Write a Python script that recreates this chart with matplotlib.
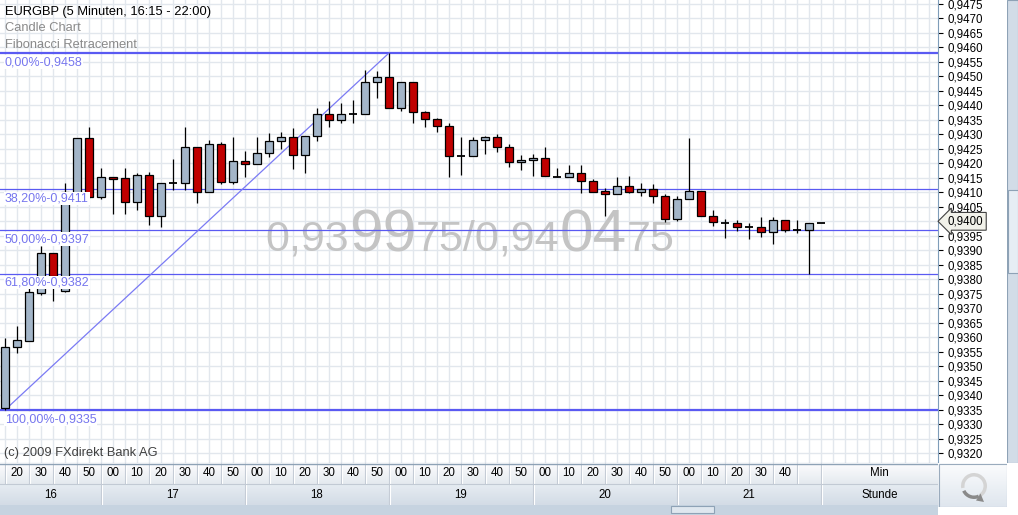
import numpy as np
import matplotlib
matplotlib.use("Agg")
import matplotlib.pyplot as plt
import matplotlib.transforms as mtransforms
from matplotlib.patches import Rectangle, Wedge, Polygon
from matplotlib.colors import to_rgb

plt.rcParams['font.family'] = ['Liberation Sans', 'DejaVu Sans']

# EURGBP 5 Minuten Kerzen ab 16:15
start_hour, start_minute, step = 16, 15, 5
opens = [0.93358, 0.93568, 0.93589, 0.93754, 0.93890, 0.93761, 0.94085, 0.94286, 0.94085, 0.94154,
         0.94148, 0.94068, 0.94160, 0.94019, 0.94131, 0.94131, 0.94255, 0.94100, 0.94265, 0.94134,
         0.94207, 0.94199, 0.94234, 0.94276, 0.94292, 0.94227, 0.94295, 0.94369, 0.94348, 0.94369,
         0.94369, 0.94479, 0.94497, 0.94389, 0.94479, 0.94376, 0.94352, 0.94328, 0.94224, 0.94224,
         0.94279, 0.94290, 0.94255, 0.94203, 0.94211, 0.94218, 0.94154, 0.94152, 0.94165, 0.94138,
         0.94104, 0.94094, 0.94122, 0.94102, 0.94110, 0.94086, 0.94007, 0.94076, 0.94103, 0.94019,
         0.93994, 0.93993, 0.93980, 0.93980, 0.93962, 0.94003, 0.93969, 0.93969, 0.93995]
highs = [0.93597, 0.93639, 0.93769, 0.93915, 0.93890, 0.94133, 0.94286, 0.94326, 0.94183, 0.94154,
         0.94183, 0.94168, 0.94171, 0.94131, 0.94214, 0.94324, 0.94255, 0.94280, 0.94272, 0.94292,
         0.94242, 0.94291, 0.94303, 0.94308, 0.94322, 0.94295, 0.94389, 0.94414, 0.94409, 0.94418,
         0.94521, 0.94518, 0.94580, 0.94479, 0.94479, 0.94380, 0.94355, 0.94338, 0.94290, 0.94292,
         0.94294, 0.94300, 0.94265, 0.94229, 0.94232, 0.94256, 0.94184, 0.94194, 0.94194, 0.94145,
         0.94114, 0.94154, 0.94156, 0.94131, 0.94129, 0.94094, 0.94086, 0.94288, 0.94103, 0.94039,
         0.94007, 0.94005, 0.93993, 0.94014, 0.94014, 0.94003, 0.94005, 0.93995, 0.93995]
lows = [0.93350, 0.93546, 0.93589, 0.93746, 0.93726, 0.93757, 0.94085, 0.94080, 0.94076, 0.94025,
        0.94025, 0.94039, 0.93987, 0.93981, 0.94108, 0.94108, 0.94064, 0.94100, 0.94128, 0.94128,
        0.94154, 0.94199, 0.94221, 0.94248, 0.94181, 0.94168, 0.94278, 0.94326, 0.94338, 0.94338,
        0.94369, 0.94424, 0.94389, 0.94381, 0.94338, 0.94324, 0.94309, 0.94154, 0.94160, 0.94224,
        0.94232, 0.94240, 0.94188, 0.94177, 0.94157, 0.94155, 0.94154, 0.94152, 0.94099, 0.94102,
        0.94019, 0.94094, 0.94097, 0.94088, 0.94062, 0.93999, 0.94001, 0.94076, 0.94019, 0.93985,
        0.93944, 0.93967, 0.93938, 0.93947, 0.93921, 0.93962, 0.93961, 0.93820, 0.93995]
closes = [0.93568, 0.93591, 0.93755, 0.93890, 0.93813, 0.94100, 0.94286, 0.94085, 0.94154, 0.94147,
          0.94068, 0.94160, 0.94019, 0.94131, 0.94131, 0.94255, 0.94100, 0.94265, 0.94134, 0.94207,
          0.94199, 0.94234, 0.94276, 0.94292, 0.94227, 0.94295, 0.94369, 0.94348, 0.94369, 0.94369,
          0.94479, 0.94497, 0.94389, 0.94479, 0.94376, 0.94352, 0.94328, 0.94224, 0.94224, 0.94279,
          0.94290, 0.94255, 0.94203, 0.94211, 0.94218, 0.94155, 0.94154, 0.94165, 0.94138, 0.94102,
          0.94094, 0.94122, 0.94102, 0.94110, 0.94086, 0.94007, 0.94076, 0.94103, 0.94019, 0.93997,
          0.93994, 0.93979, 0.93980, 0.93962, 0.94003, 0.93969, 0.93969, 0.93995, 0.93995]

fib_pcts = ['0,00%', '38,20%', '50,00%', '61,80%', '100,00%']
fib_levels = [0.9458, 0.9411, 0.9397, 0.9382, 0.9335]

minute_labels = ['20', '30', '40', '50',
                 '00', '10', '20', '30', '40', '50',
                 '00', '10', '20', '30', '40', '50',
                 '00', '10', '20', '30', '40', '50',
                 '00', '10', '20', '30', '40', '50',
                 '00', '10', '20', '30', '40', '']
hour_labels = ['16', '17', '18', '19', '20', '21']
y_ticks = np.round(np.arange(0.9320, 0.94751, 0.0005), 4)
last_price = 0.9400
quote_parts = ['0,93', '99', '75/0,94', '04', '75']
quote_big = [False, True, False, True, False]

W, H = 1018, 515
UP, DOWN = '#a3b5c8', '#c00000'
FIB, FIBTXT = '#5a5af2', '#7676ee'
GRID = '#e2e7ed'


def fmt(v):
    return f"{v:.4f}".replace('.', ',')


def gradient(a, c_top, c_bot, extent):
    t = np.linspace(0, 1, 32)[:, None, None]
    img = np.array(to_rgb(c_top)) * (1 - t) + np.array(to_rgb(c_bot)) * t
    a.imshow(img, extent=extent, aspect='auto', origin='upper', zorder=0)


fig = plt.figure(figsize=(W / 100, H / 100), dpi=100)

# Hauptchart
ax = fig.add_axes([0, 52 / H, 938 / W, 463 / H])
x_lo, x_hi = -5 / 12, 933 / 12
ax.set_xlim(x_lo, x_hi)
ax.set_ylim(0.9458 - 410 / 29020, 0.9458 + 53 / 29020)
ax.set_xticks([])
ax.set_xticks(np.arange(0, 78), minor=True)
ax.tick_params(axis='x', which='both', length=0)
ax.grid(True, which='minor', axis='x', color=GRID, lw=1, zorder=0)
ax.set_yticks(y_ticks)
ax.set_yticklabels(['' if abs(v - last_price) < 1e-6 else fmt(v) for v in y_ticks])
ax.yaxis.tick_right()
ax.tick_params(axis='y', direction='out', length=3.5, width=0.8, pad=3, labelsize=8.3)
ax.grid(True, which='major', axis='y', color=GRID, lw=1, zorder=0)
ax.set_axisbelow(True)
for s in ['top', 'left']:
    ax.spines[s].set_visible(False)
ax.spines['right'].set_color('#7f9db9')
ax.spines['bottom'].set_color('#7f9db9')

# Kurs-Wasserzeichen
renderer = fig.canvas.get_renderer()
px = 265
for part, big in zip(quote_parts, quote_big):
    t = ax.text(px, H - 251, part, transform=mtransforms.IdentityTransform(),
                fontsize=43.5 if big else 31, color='#c4c4c4', ha='left', va='baseline', zorder=1)
    px += t.get_window_extent(renderer).width

# Fibonacci
for pct, lvl in zip(fib_pcts, fib_levels):
    thick = pct in ('0,00%', '100,00%')
    ax.axhline(lvl, color=FIB, lw=1.6 if thick else 0.9, zorder=2)
    ax.annotate(f"{pct}-{fmt(lvl)}", xy=(x_lo, lvl), xytext=(3.5, -2.2), textcoords='offset points',
                ha='left', va='top', fontsize=9, color=FIBTXT, zorder=6,
                bbox=dict(fc='white', ec='none', pad=0.6))
ax.plot([0, 32], [lows[0], highs[32]], color='#7a7af4', lw=0.9, zorder=2)

# Kerzen
for i, (o, h, l, c) in enumerate(zip(opens, highs, lows, closes)):
    ax.vlines(i, l, h, color='black', lw=0.9, zorder=3)
    if abs(c - o) < 1e-7:
        ax.hlines(o, i - 0.36, i + 0.36, color='black', lw=1.3, zorder=4)
    else:
        ax.add_patch(Rectangle((i - 0.36, min(o, c)), 0.72, abs(c - o),
                               fc=UP if c > o else DOWN, ec='black', lw=0.9, zorder=4))

ax.annotate(fmt(last_price), xy=(1, last_price), xycoords=('axes fraction', 'data'),
            xytext=(7, 0), textcoords='offset points', ha='left', va='center', fontsize=8.3,
            bbox=dict(boxstyle='larrow,pad=0.25', fc='#f2f2ea', ec='#404040', lw=0.8),
            annotation_clip=False, zorder=7)

ax.text(5 / 938, 1 - 12 / 463, 'EURGBP (5 Minuten, 16:15 - 22:00)', transform=ax.transAxes,
        fontsize=9.3, color='black', va='center')
ax.text(5 / 938, 1 - 28 / 463, 'Candle Chart', transform=ax.transAxes,
        fontsize=9.3, color='#8a8a8a', va='center')
ax.text(5 / 938, 1 - 45 / 463, 'Fibonacci Retracement', transform=ax.transAxes,
        fontsize=9.3, color='#8a8a8a', va='center')
ax.text(4 / 938, 1 - 453 / 463, '(c) 2009 FXdirekt Bank AG', transform=ax.transAxes,
        fontsize=9.3, color='#404040', va='center')

# Zeitachse
ax_t = fig.add_axes([0, 10 / H, 938 / W, 42 / H])
ax_t.set_xlim(x_lo, x_hi)
ax_t.set_ylim(0, 2)
ax_t.axis('off')
gradient(ax_t, '#fdfdfe', '#e4e9ef', [x_lo, x_hi, 1, 2])
gradient(ax_t, '#e6ecf2', '#d3dce6', [x_lo, x_hi, 0, 1])
ax_t.set_xlim(x_lo, x_hi)
ax_t.set_ylim(0, 2)
n_min = len(minute_labels)
for k in range(n_min + 1):
    ax_t.vlines(2 * k, 1, 2, color='#c2cad4', lw=0.8)
    ax_t.vlines(2 * k + 0.09, 1, 2, color='white', lw=0.8)
for k, lab in enumerate(minute_labels):
    ax_t.text(2 * k + 1, 1.5, lab, ha='center', va='center', fontsize=8.3)
start_idx = start_hour * 60 + start_minute
bounds = [x_lo] + [((int(hl) + 1) * 60 - 5 - start_idx) / step for hl in hour_labels]
for k, lab in enumerate(hour_labels):
    ax_t.text((bounds[k] + bounds[k + 1]) / 2, 0.5, lab, ha='center', va='center', fontsize=8.3)
    ax_t.vlines(bounds[k + 1], 0, 1, color='#c2cad4', lw=0.8)
    ax_t.vlines(bounds[k + 1] + 0.09, 0, 1, color='white', lw=0.8)
end_idx = 2 * n_min
ax_t.text((end_idx + x_hi) / 2, 1.5, 'Min', ha='center', va='center', fontsize=8.3)
ax_t.text((end_idx + x_hi) / 2, 0.5, 'Stunde', ha='center', va='center', fontsize=8.3)
ax_t.axhline(1, color='#c2cad4', lw=0.8)
ax_t.axhline(1.97, color='#8ea2b6', lw=1)

# Scrollleisten
ax_s = fig.add_axes([0, 0, 938 / W, 10 / H])
ax_s.set_xlim(0, 938)
ax_s.set_ylim(0, 10)
ax_s.axis('off')
ax_s.add_patch(Rectangle((0, 0), 938, 10, fc='#c6d3e0', ec='none'))
ax_s.add_patch(Rectangle((671, 2), 43, 7, fc='#dfe7ef', ec='#8ea2b6', lw=0.8))

ax_r = fig.add_axes([1007 / W, 52 / H, 11 / W, 463 / H])
ax_r.set_xlim(0, 11)
ax_r.set_ylim(463, 0)
ax_r.axis('off')
ax_r.add_patch(Rectangle((0, 0), 11, 463, fc='#d2dce7', ec='#8ea2b6', lw=0.8))
ax_r.add_patch(Rectangle((0.5, 190), 10, 83, fc='#e6edf4', ec='#8ea2b6', lw=0.8))

# Aktualisieren-Knopf
ax_i = fig.add_axes([938 / W, 8 / H, 69 / W, 44 / H])
ax_i.set_xlim(0, 69)
ax_i.set_ylim(0, 44)
ax_i.axis('off')
gradient(ax_i, '#fbfcfd', '#dfe6ee', [0, 69, 0, 44])
ax_i.set_xlim(0, 69)
ax_i.set_ylim(0, 44)
ax_i.add_patch(Rectangle((0.5, 0.5), 68, 43, fc='none', ec='#9aabbd', lw=0.8))
ax_i.add_patch(Wedge((36, 21), 13, -60, 190, width=3.5, fc='#d4d4d4', ec='none'))
ax_i.add_patch(Wedge((36, 21), 13, 205, 295, width=3.5, fc='#8a8a8a', ec='none'))
ax_i.add_patch(Polygon([[42.5, 13.5], [46, 5], [38, 6.5]], closed=True, fc='#8a8a8a', ec='none'))

fig.savefig('out.png', dpi=100)
